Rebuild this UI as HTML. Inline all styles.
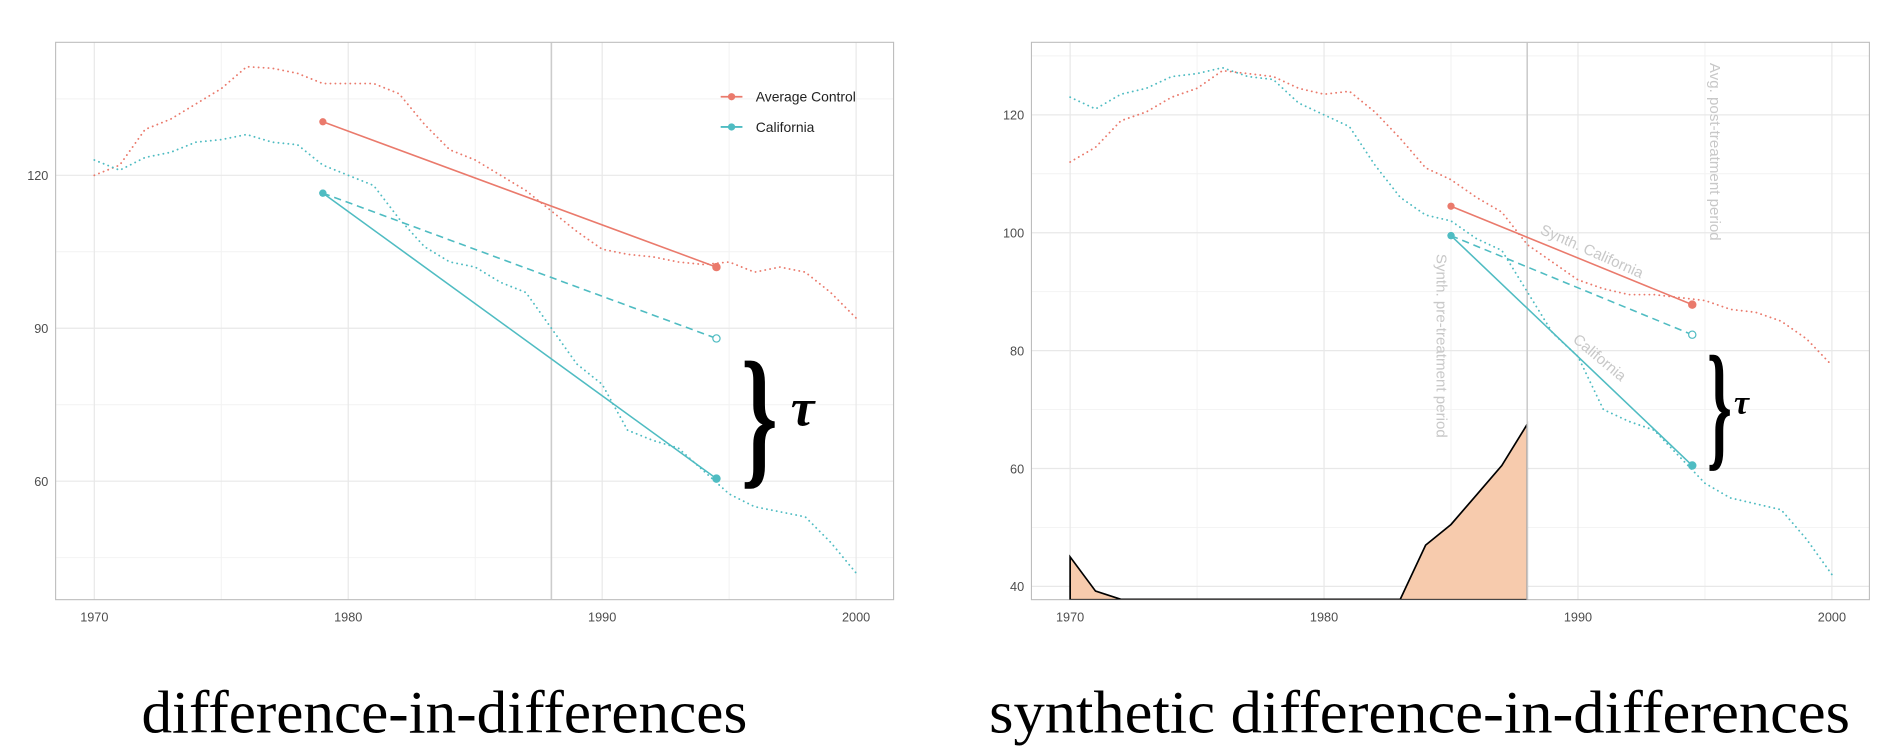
<!DOCTYPE html>
<html><head><meta charset="utf-8"><style>
html,body{margin:0;padding:0;background:#fff;}
svg{display:block;}
.sans{font-family:"Liberation Sans",sans-serif;}
.serif{font-family:"Liberation Serif",serif;}
</style></head><body>
<svg id="chart" width="1896" height="752" viewBox="0 0 1568 622" preserveAspectRatio="none" xmlns="http://www.w3.org/2000/svg"></svg>
<script>
const years = [1970,1971,1972,1973,1974,1975,1976,1977,1978,1979,1980,1981,1982,1983,1984,1985,1986,1987,1988,1989,1990,1991,1992,1993,1994,1995,1996,1997,1998,1999,2000];
const californiaValues = [123,121,123.5,124.5,126.5,127,128,126.5,126,122,120,118,111.5,106,103,102,99,97,90,83,79,70,68,66.5,62,57.5,55,54,53,48,42];
const avgControlValues = [120,122,129,131,134,137,141.3,141,140,138,138,138,136,130,125,123,120,117,113,109,105.5,104.5,104,103,102.5,103,101,102,101,97,92];
const synthControlValues = [112,114.5,119,120.5,123,124.5,127.5,127,126.5,124.5,123.5,124,120.5,116,111,109,106,103.5,98,95,92,90.5,89.5,89.5,89,88.5,87,86.5,85,82,77.5];
const weightYears = [1970,1971,1972,1973,1974,1975,1976,1977,1978,1979,1980,1981,1982,1983,1984,1985,1986,1987,1988];
const weightValues = [45,39.2,37.8,37.8,37.8,37.8,37.8,37.8,37.8,37.8,37.8,37.8,37.8,37.8,47,50.5,55.5,60.5,67.5];
const didPeriods = [1979,1994.5];
const didControl = [130.5,102];
const didCalifornia = [116.5,60.5];
const didCounterfactual = [116.5,88];
const sdidPeriods = [1985,1994.5];
const sdidControl = [104.5,87.8];
const sdidCalifornia = [99.5,60.5];
const sdidCounterfactual = [99.5,82.7];
const xTicks = [1970,1980,1990,2000];
const leftYTicks = [60,90,120];
const rightYTicks = [40,60,80,100,120];

const RED="#ea7a6c", TEAL="#4fbcc2", NS="http://www.w3.org/2000/svg";
const svg=document.getElementById('chart');
function el(tag,attrs,parent){const e=document.createElementNS(NS,tag);for(const k in attrs)e.setAttribute(k,attrs[k]);(parent||svg).appendChild(e);return e;}

function panel(cfg){
  const g=el('g',{});
  
  
  const X=v=>cfg.x0+(v-1970)*cfg.xs;
  const Y=v=>cfg.y0-(v-cfg.yRef)*cfg.ys;
  for(let yr=1975;yr<=1995;yr+=10){const l=el('line',{x1:X(yr),x2:X(yr),y1:cfg.top,y2:cfg.bot,stroke:"#f2f2f2","stroke-width":0.8},g);}
  cfg.minorY.forEach(v=>{const l=el('line',{x1:cfg.left,x2:cfg.right,y1:Y(v),y2:Y(v),stroke:"#f2f2f2","stroke-width":0.8},g);});
  xTicks.forEach(t=>{const l=el('line',{x1:X(t),x2:X(t),y1:cfg.top,y2:cfg.bot,stroke:"#e8e8e8","stroke-width":1},g);
    const tx=el('text',{class:"sans",x:X(t),y:cfg.bot+18,"text-anchor":"middle","font-size":10.5,fill:"#4d4d4d"},g);tx.textContent=t;});
  cfg.yTicks.forEach(t=>{const l=el('line',{x1:cfg.left,x2:cfg.right,y1:Y(t),y2:Y(t),stroke:"#e8e8e8","stroke-width":1},g);
    const tx=el('text',{class:"sans",x:cfg.left-6,y:Y(t)+4,"text-anchor":"end","font-size":10.5,fill:"#4d4d4d"},g);tx.textContent=t;});
  const b=el('rect',{x:cfg.left,y:cfg.top,width:cfg.right-cfg.left,height:cfg.bot-cfg.top,fill:"none",stroke:"#bcbcbc","stroke-width":0.9},g);
  
  const cp='clip'+cfg.name;
  const c=el('clipPath',{id:cp},g);el('rect',{x:cfg.left,y:cfg.top,width:cfg.right-cfg.left,height:cfg.bot-cfg.top},c);
  const inner=el('g',{"clip-path":"url(#"+cp+")"},g);
  if(cfg.weights){
    let d="M"+X(weightYears[0])+","+cfg.bot;
    weightYears.forEach((yr,i)=>{d+=" L"+X(yr)+","+Y(weightValues[i]);});
    d+=" L"+X(weightYears[weightYears.length-1])+","+cfg.bot+" Z";
    const a=el('path',{d:d,fill:"#f7cbad",stroke:"#000","stroke-width":1.4},inner);
    
  }
  const vl=el('line',{x1:X(1988),x2:X(1988),y1:cfg.top,y2:cfg.bot,stroke:"#cccccc","stroke-width":1.3},inner);
  
  function dotted(vals,col,name){
    const p=el('polyline',{points:years.map((yr,i)=>X(yr)+","+Y(vals[i])).join(" "),fill:"none",stroke:col,"stroke-width":1.5,"stroke-dasharray":"0.1 4","stroke-linecap":"round"},inner);
    
  }
  dotted(cfg.ctrl,RED,'control-trend-line');
  dotted(californiaValues,TEAL,'california-trend-line');
  function seg(vals,col,name,dash,open){
    const l=el('line',{x1:X(cfg.per[0]),y1:Y(vals[0]),x2:X(cfg.per[1]),y2:Y(vals[1]),stroke:col,"stroke-width":1.3},inner);
    if(dash)l.setAttribute('stroke-dasharray','6 4');
    
    const c1=el('circle',{cx:X(cfg.per[0]),cy:Y(vals[0]),r:3,fill:col},inner);
    
    const c2=el('circle',{cx:X(cfg.per[1]),cy:Y(vals[1]),r:3,fill:open?"#fff":col,stroke:col,"stroke-width":1},inner);
    
  }
  seg(cfg.segC,RED,'control-segment',false,false);
  seg(cfg.segCf,TEAL,'counterfactual-segment',true,true);
  seg(cfg.segT,TEAL,'california-segment',false,false);
  return {X,Y,g};
}

panel({name:'did-panel',left:46,right:739,top:35,bot:496,x0:78,xs:21,y0:145,yRef:120,ys:4.217,yTicks:leftYTicks,minorY:[45,75,105,135],ctrl:avgControlValues,per:didPeriods,segC:didControl,segT:didCalifornia,segCf:didCounterfactual});
panel({name:'sdid-panel',left:853,right:1546,top:35,bot:496,x0:885,xs:21,y0:95,yRef:120,ys:4.875,yTicks:rightYTicks,minorY:[50,70,90,110,130],ctrl:synthControlValues,per:sdidPeriods,segC:sdidControl,segT:sdidCalifornia,segCf:sdidCounterfactual,weights:true});

[['Average Control',RED,80],['California',TEAL,105]].forEach(([t,c,y])=>{
  const g=el('g',{});
  el('line',{x1:596,x2:614,y1:y,y2:y,stroke:c,"stroke-width":1.5},g);
  el('circle',{cx:605,cy:y,r:3,fill:c},g);
  const tx=el('text',{class:"sans",x:625,y:y+4,"font-size":11.5,fill:"#222"},g);tx.textContent=t;
});

function brace(x,y1,y2,fs,sx,tx,ty,tfs,name){
  const cy=(y1+y2)/2;
  const b=el('text',{class:"serif",x:x,y:cy,"font-size":fs,"font-weight":"bold","text-anchor":"middle","dominant-baseline":"central",transform:`translate(${x},${cy}) scale(${sx},1) translate(${-x},${-cy})`},svg);
  b.textContent='}';
  const t=el('text',{class:"serif",x:tx,y:ty,"font-size":tfs,"font-weight":"bold","font-style":"italic"},svg);
  t.textContent='τ';
}
brace(628,283,405,128,0.6,654,352,44,'did');
brace(1422,280,390,116,0.45,1434,342,28,'sdid');

function ann(t,x,y,rot,anchor,name){
  const e=el('text',{class:"sans",x:x,y:y,"font-size":12.5,fill:"#c8c8c8","text-anchor":anchor,transform:`rotate(${rot},${x},${y})`},svg);
  e.textContent=t;
}
ann('Synth. pre-treatment period',1188,210,90,'start','pre-treatment-label');
ann('Avg. post-treatment period',1414,52,90,'start','post-treatment-label');
ann('Synth. California',1273,193,24,'start','synth-california-label');
ann('California',1300,282,40,'start','california-label');

[['difference-in-differences',117,501,'did-title'],['synthetic difference-in-differences',818,712,'sdid-title']].forEach(([t,x,w,n])=>{
  const e=el('text',{class:"serif",x:x,y:606,"font-size":50,fill:"#000",textLength:w,lengthAdjust:"spacingAndGlyphs"},svg);
  e.textContent=t;
});
</script>
</body></html>
